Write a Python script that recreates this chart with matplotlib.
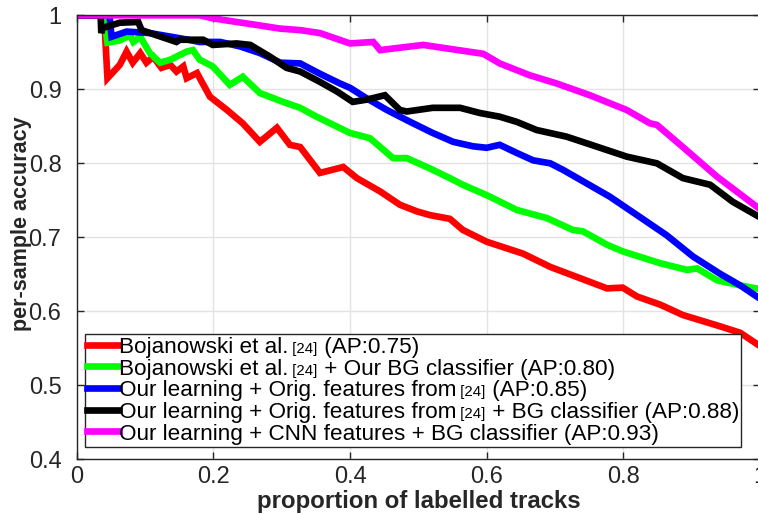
import numpy as np
import matplotlib
matplotlib.use('Agg')
import matplotlib.pyplot as plt
from matplotlib.offsetbox import AnchoredOffsetbox, HPacker, VPacker, TextArea, DrawingArea
from matplotlib.lines import Line2D

plt.rcParams['font.family'] = ['Liberation Sans', 'DejaVu Sans']

# accuracy vs. proportion of labelled tracks for each method
red_x = [0, 0.040, 0.045, 0.063, 0.073, 0.082, 0.093, 0.102, 0.112, 0.124, 0.137, 0.146,
         0.156, 0.161, 0.176, 0.195, 0.220, 0.243, 0.268, 0.293, 0.312, 0.327, 0.356, 0.390,
         0.410, 0.444, 0.473, 0.498, 0.517, 0.546, 0.565, 0.600, 0.653, 0.693, 0.736, 0.776,
         0.799, 0.820, 0.854, 0.887, 0.937, 0.971, 1.0]
red_y = [1.0, 1.0, 0.915, 0.933, 0.951, 0.936, 0.949, 0.936, 0.944, 0.929, 0.933, 0.924,
         0.931, 0.915, 0.922, 0.890, 0.872, 0.854, 0.829, 0.848, 0.825, 0.822, 0.787, 0.795,
         0.780, 0.762, 0.744, 0.735, 0.730, 0.725, 0.710, 0.694, 0.678, 0.660, 0.645, 0.631,
         0.632, 0.620, 0.609, 0.595, 0.581, 0.571, 0.553]

green_x = [0, 0.040, 0.045, 0.063, 0.078, 0.083, 0.093, 0.107, 0.122, 0.137, 0.161, 0.170,
           0.180, 0.199, 0.224, 0.243, 0.268, 0.302, 0.327, 0.351, 0.400, 0.429, 0.463, 0.483,
           0.517, 0.546, 0.565, 0.600, 0.644, 0.688, 0.726, 0.741, 0.776, 0.799, 0.854, 0.893,
           0.908, 0.937, 0.971, 1.0]
green_y = [1.0, 1.0, 0.963, 0.966, 0.973, 0.964, 0.971, 0.949, 0.936, 0.940, 0.951, 0.953,
           0.940, 0.931, 0.906, 0.917, 0.895, 0.883, 0.875, 0.863, 0.841, 0.834, 0.807, 0.807,
           0.793, 0.780, 0.771, 0.757, 0.737, 0.726, 0.710, 0.708, 0.690, 0.681, 0.665, 0.656,
           0.658, 0.642, 0.635, 0.630]

blue_x = [0, 0.048, 0.051, 0.073, 0.107, 0.151, 0.180, 0.210, 0.239, 0.268, 0.298, 0.327,
          0.356, 0.385, 0.400, 0.424, 0.454, 0.488, 0.521, 0.551, 0.580, 0.600, 0.619, 0.644,
          0.668, 0.693, 0.712, 0.746, 0.780, 0.820, 0.863, 0.902, 0.941, 0.971, 1.0]
blue_y = [1.0, 1.0, 0.971, 0.978, 0.976, 0.969, 0.964, 0.964, 0.958, 0.949, 0.936, 0.935,
          0.921, 0.908, 0.902, 0.888, 0.872, 0.856, 0.841, 0.829, 0.823, 0.821, 0.825, 0.814,
          0.804, 0.800, 0.791, 0.773, 0.755, 0.730, 0.703, 0.674, 0.651, 0.635, 0.617]

black_x = [0, 0.035, 0.036, 0.038, 0.063, 0.090, 0.095, 0.117, 0.146, 0.151, 0.185, 0.199,
           0.234, 0.254, 0.283, 0.307, 0.327, 0.356, 0.381, 0.404, 0.424, 0.451, 0.473, 0.483,
           0.521, 0.561, 0.590, 0.619, 0.644, 0.673, 0.717, 0.766, 0.805, 0.849, 0.887, 0.927,
           0.960, 1.0]
black_y = [1.0, 1.0, 0.976, 0.983, 0.990, 0.991, 0.980, 0.973, 0.964, 0.967, 0.967, 0.960,
           0.962, 0.960, 0.944, 0.929, 0.924, 0.910, 0.897, 0.883, 0.886, 0.892, 0.872, 0.870,
           0.875, 0.875, 0.868, 0.863, 0.856, 0.845, 0.836, 0.821, 0.809, 0.800, 0.780, 0.771,
           0.748, 0.727]

magenta_x = [0, 0.180, 0.199, 0.234, 0.263, 0.298, 0.327, 0.356, 0.400, 0.434, 0.444, 0.507,
             0.595, 0.619, 0.663, 0.702, 0.751, 0.805, 0.839, 0.849, 0.887, 0.937, 1.0]
magenta_y = [1.0, 1.0, 0.996, 0.991, 0.987, 0.982, 0.980, 0.976, 0.962, 0.964, 0.953, 0.960,
             0.948, 0.935, 0.919, 0.908, 0.892, 0.872, 0.854, 0.852, 0.822, 0.782, 0.738]

colors = ['#ff0000', '#00ff00', '#0000ff', '#000000', '#ff00ff']
# legend text split so that the citation can be drawn smaller
labels = [
    ('Bojanowski et al.', ' [24]', ' (AP:0.75)'),
    ('Bojanowski et al.', ' [24]', ' + Our BG classifier (AP:0.80)'),
    ('Our learning + Orig. features from', ' [24]', ' (AP:0.85)'),
    ('Our learning + Orig. features from', ' [24]', ' + BG classifier (AP:0.88)'),
    ('Our learning + CNN features + BG classifier (AP:0.93)', '', ''),
]
xticks = [0, 0.2, 0.4, 0.6, 0.8, 1.0]
xtick_labels = ['0', '0.2', '0.4', '0.6', '0.8', '1']
yticks = [0.4, 0.5, 0.6, 0.7, 0.8, 0.9, 1.0]
ytick_labels = ['0.4', '0.5', '0.6', '0.7', '0.8', '0.9', '1']

fig = plt.figure(figsize=(7.58, 5.14), dpi=100)
ax = fig.add_axes([0.1012, 0.1064, 0.9015, 0.8638])

series = [(red_x, red_y), (green_x, green_y), (blue_x, blue_y),
          (black_x, black_y), (magenta_x, magenta_y)]
for (xs, ys), c in zip(series, colors):
    ax.plot(xs, ys, color=c, linewidth=4.8, solid_joinstyle='miter')

ax.set_xlim(0, 1)
ax.set_ylim(0.4, 1)
ax.set_xticks(xticks)
ax.set_xticklabels(xtick_labels)
ax.set_yticks(yticks)
ax.set_yticklabels(ytick_labels)
ax.grid(True, color='#e3e3e3', linewidth=1.0)
ax.set_axisbelow(True)
ax.tick_params(direction='in', top=True, right=True, length=5, width=1,
               colors='#262626', labelsize=17, pad=5)
ax.tick_params(axis='y', pad=11)
for sp in ax.spines.values():
    sp.set_color('#262626')
    sp.set_linewidth(1.0)

ax.set_xlabel('proportion of labelled tracks', fontsize=17.3, fontweight='bold',
              color='#262626')
ax.set_ylabel('per-sample accuracy', fontsize=15.5, fontweight='bold',
              color='#262626')
ax.xaxis.set_label_coords(0.5, -0.068)
ax.yaxis.set_label_coords(-0.066, 0.53)

# legend rows: line sample + text pieces
rows = []
for c, (a, b, d) in zip(colors, labels):
    da = DrawingArea(23, 12, 0, 0)
    da.add_artist(Line2D([0, 23], [6, 6], color=c, linewidth=4.8))
    pieces = [da, TextArea(a, textprops=dict(fontsize=16.2, color='black'))]
    if b:
        pieces.append(TextArea(b, textprops=dict(fontsize=10.8, color='black')))
        pieces.append(TextArea(d, textprops=dict(fontsize=16.2, color='black')))
    rows.append(HPacker(children=pieces, align='baseline', pad=0, sep=0))
box = VPacker(children=rows, align='left', pad=0, sep=0)
anchored = AnchoredOffsetbox(loc='lower left', child=box, pad=0.15, borderpad=0,
                             bbox_to_anchor=(0.012, 0.028),
                             bbox_transform=ax.transAxes, frameon=True)
anchored.patch.set_edgecolor('#262626')
anchored.patch.set_linewidth(1.0)
ax.add_artist(anchored)

fig.savefig('out.png', dpi=100)
